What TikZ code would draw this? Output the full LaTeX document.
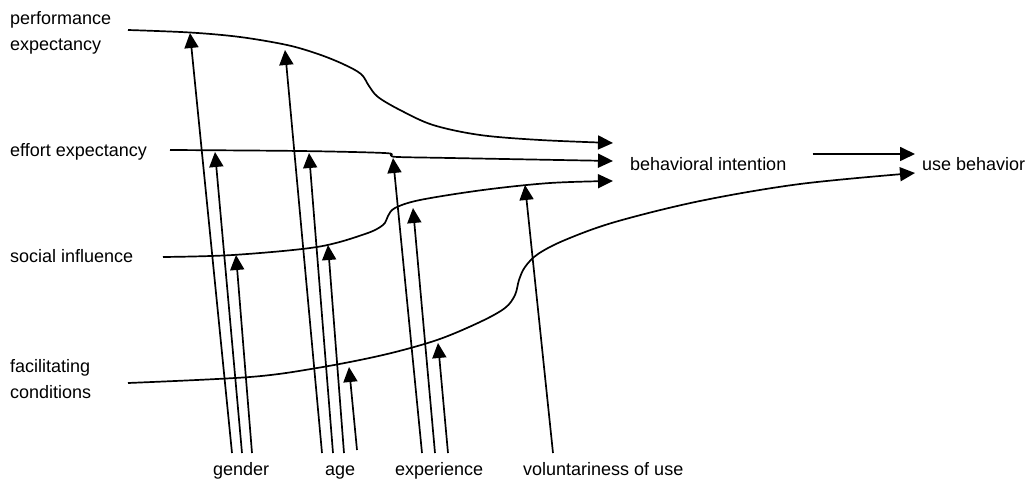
\documentclass[tikz,border=0pt]{standalone}
\usepackage{fontspec}
\setmainfont{Liberation Sans}
\usetikzlibrary{arrows.meta,calc}
\begin{document}
\begin{tikzpicture}[x=1pt,y=-1pt,
  lbl/.style={inner sep=0pt, font=\fontsize{18}{26}\selectfont, anchor=base west},
  mlbl/.style={inner sep=0pt, font=\fontsize{18}{26}\selectfont, anchor=north west, align=left},
  link/.style={line width=1.7pt, -{Triangle[length=15pt,width=14pt]}},
  flow/.style={link, line join=round}]
\useasboundingbox (0,0) rectangle (1029,481);
% construct labels
\node[mlbl] (pe) at (10,11) {performance\\expectancy};
\node[lbl] (ee) at (10,157) {effort expectancy};
\node[lbl] (si) at (10,263) {social influence};
\node[mlbl] (fc) at (10,359) {facilitating\\conditions};
\node[lbl] (bi) at (630,171) {behavioral intention};
\node[lbl] (ub) at (922,171) {use behavior};
% moderator labels
\node[lbl] (gen) at (213,475) {gender};
\node[lbl] (age) at (325,475) {age};
\node[lbl] (exp) at (395,475) {experience};
\node[lbl] (vol) at (523,475) {voluntariness of use};
% curve ends
\coordinate (pe0) at (128,30);
\coordinate (ee0) at (170,150);
\coordinate (si0) at (163,257);
\coordinate (fc0) at (128,383);
\coordinate (bi1) at ($(bi.base west)+(-17,-28)$);
\coordinate (bi2) at ($(bi.base west)+(-17,-10)$);
\coordinate (bi3) at ($(bi.base west)+(-17,10)$);
\coordinate (ub2) at ($(ub.base west)+(-7,2)$);
% construct to intention
\draw[flow] plot[smooth, tension=0.55] coordinates {(pe0) (190,32.5) (240,37) (287,45) (318,54) (343,64) (361,74) (369,86) (378,97) (400,110) (433,125) (480,135) (540,140) (bi1)};
\draw[flow] plot[smooth, tension=0.55] coordinates {(ee0) (300,151) (384,153) (391,155.5) (398,157) (450,158) (bi2)};
\draw[flow] plot[smooth, tension=0.55] coordinates {(si0) (233,255) (317,247) (365,234) (383,225) (388,216) (395,208) (420,200) (483,190) (550,183) (bi3)};
\draw[flow] plot[smooth, tension=0.55] coordinates {(fc0) (250,377) (317,368) (383,355) (437,340) (480,322) (505,308) (515,295) (519,280) (525,267) (538,254) (565,240) (615,222) (700,201) (800,184) (ub2)};
% intention to behavior
\draw[link] ($(bi.base east)+(26,-17)$) -- ($(ub.base west)+(-7,-17)$);
% moderator tips
\coordinate (g1) at (190,33);
\coordinate (g2) at (215,152);
\coordinate (g3) at (236,255);
\coordinate (a1) at (285,50);
\coordinate (a2) at (309,153);
\coordinate (a3) at (328,245);
\coordinate (a4) at (349,367);
\coordinate (e1) at (393,158);
\coordinate (e2) at (413,208);
\coordinate (e3) at (438,343);
\coordinate (v1) at (525,185);
% gender
\draw[link] ($(gen.base west)+(19,-22)$) -- (g1);
\draw[link] ($(gen.base west)+(29,-22)$) -- (g2);
\draw[link] ($(gen.base west)+(39,-22)$) -- (g3);
% age
\draw[link] ($(age.base west)+(-3,-22)$) -- (a1);
\draw[link] ($(age.base west)+(8,-22)$) -- (a2);
\draw[link] ($(age.base west)+(19,-22)$) -- (a3);
\draw[link] ($(age.base west)+(32,-25)$) -- (a4);
% experience
\draw[link] ($(exp.base west)+(27,-22)$) -- (e1);
\draw[link] ($(exp.base west)+(40,-22)$) -- (e2);
\draw[link] ($(exp.base west)+(53,-22)$) -- (e3);
% voluntariness
\draw[link] ($(vol.base west)+(30,-22)$) -- (v1);
\end{tikzpicture}
\end{document}
